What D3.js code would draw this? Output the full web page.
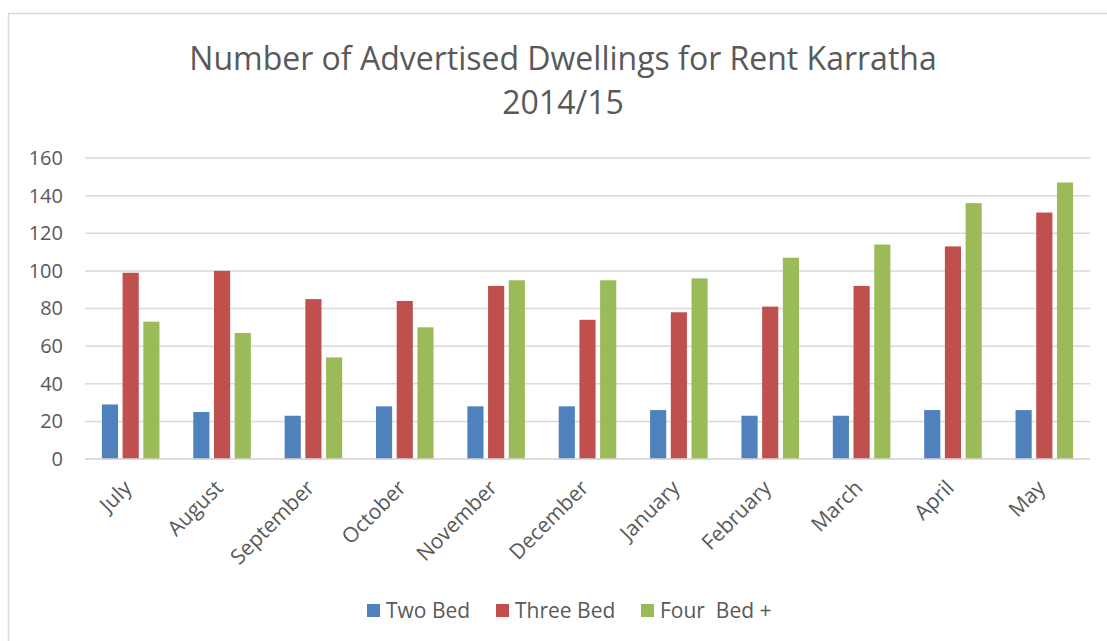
<!DOCTYPE html>
<meta charset="utf-8">
<style>
body { margin: 0; background: #fff; }
text { font-family: "Open Sans", "DejaVu Sans", sans-serif; fill: #595959; }
</style>
<script src="https://cdn.jsdelivr.net/npm/d3@7"></script>
<div id="chart"></div>
<script>
// data
var months = ["July","August","September","October","November","December","January","February","March","April","May"];
var seriesNames = ["Two Bed", "Three Bed", "Four  Bed +"];
var twoBed   = [29, 25, 23, 28, 28, 28, 26, 23, 23, 26, 26];
var threeBed = [99, 100, 85, 84, 92, 74, 78, 81, 92, 113, 131];
var fourBed  = [73, 67, 54, 70, 95, 95, 96, 107, 114, 136, 147];
var yTicks = [0, 20, 40, 60, 80, 100, 120, 140, 160];
var colors = ["#4F81BD", "#C0504D", "#9BBB59"];

var W = 1107, H = 641;
var margin = {top: 158, right: 17, bottom: 182, left: 85};
var width = W - margin.left - margin.right,
    height = H - margin.top - margin.bottom;

var svg = d3.select("#chart").append("svg")
    .attr("width", W)
    .attr("height", H);

// outer chart border (runs off right/bottom)
svg.append("rect")
    .attr("x", 8.5).attr("y", 13.5)
    .attr("width", W + 10).attr("height", H + 10)
    .attr("fill", "none")
    .attr("stroke", "#D9D9D9")
    .attr("stroke-width", 1.5);

// title
var title = svg.append("text")
    .attr("text-anchor", "middle")
    .style("font-size", "32px");
title.append("tspan").attr("x", 563).attr("y", 70).text("Number of Advertised Dwellings for Rent Karratha");
title.append("tspan").attr("x", 563).attr("y", 114).text("2014/15");

var g = svg.append("g")
    .attr("transform", "translate(" + margin.left + "," + margin.top + ")");

var x = d3.scaleBand()
    .domain(months)
    .range([0, width])
    .paddingInner(0.37)
    .paddingOuter(0.185);

var xs = d3.scaleBand()
    .domain(seriesNames)
    .range([0, x.bandwidth()])
    .paddingInner(0.22);

var y = d3.scaleLinear()
    .domain([0, 160])
    .range([height, 0]);

// gridlines
g.append("g")
    .selectAll("line")
    .data(yTicks)
    .enter().append("line")
      .attr("x1", 0).attr("x2", width)
      .attr("y1", function(d) { return y(d); })
      .attr("y2", function(d) { return y(d); })
      .attr("stroke", "#D9D9D9")
      .attr("stroke-width", 1.5);

// y axis labels
var yAxis = g.append("g")
    .call(d3.axisLeft(y).tickValues(yTicks).tickSize(0).tickPadding(22));
yAxis.select(".domain").remove();
yAxis.selectAll("text")
    .style("font-size", "20px")
    .attr("fill", "#595959");

// bars
var rows = months.map(function(m, i) {
  return {month: m, values: [twoBed[i], threeBed[i], fourBed[i]]};
});

var groups = g.selectAll(".grp")
    .data(rows)
    .enter().append("g")
      .attr("class", "grp")
      .attr("transform", function(d) { return "translate(" + x(d.month) + ",0)"; });

groups.selectAll("rect")
    .data(function(d) { return d.values.map(function(v, k) { return {key: seriesNames[k], value: v, k: k}; }); })
    .enter().append("rect")
      .attr("x", function(d) { return xs(d.key); })
      .attr("width", xs.bandwidth())
      .attr("y", function(d) { return y(d.value); })
      .attr("height", function(d) { return height - y(d.value); })
      .attr("fill", function(d) { return colors[d.k]; });

// x axis line on top of bars
g.append("line")
    .attr("x1", 0).attr("x2", width)
    .attr("y1", height).attr("y2", height)
    .attr("stroke", "#D9D9D9")
    .attr("stroke-width", 1.5);

// x labels, rotated
g.append("g")
    .selectAll("text")
    .data(months)
    .enter().append("text")
      .attr("transform", function(d) {
        return "translate(" + (x(d) + x.bandwidth() / 2 - 3) + "," + (height + 25) + ") rotate(-45)";
      })
      .attr("text-anchor", "end")
      .attr("dy", "0.35em")
      .style("font-size", "21px")
      .text(function(d) { return d; });

// legend
var legendX = [367, 496, 641];
var legend = svg.append("g");
seriesNames.forEach(function(s, k) {
  legend.append("rect")
      .attr("x", legendX[k]).attr("y", 604)
      .attr("width", 13).attr("height", 13)
      .attr("fill", colors[k]);
  legend.append("text")
      .attr("x", legendX[k] + 19).attr("y", 618)
      .attr("xml:space", "preserve")
      .style("white-space", "pre")
      .style("font-size", "21px")
      .text(s);
});
</script>
